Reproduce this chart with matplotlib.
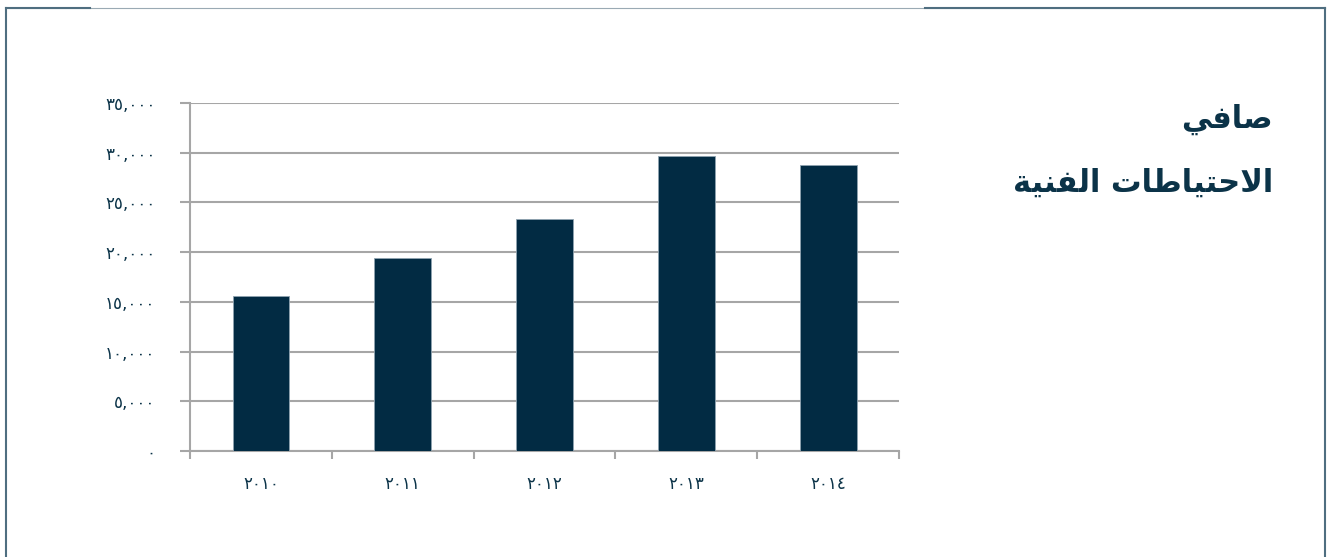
import matplotlib
matplotlib.use("Agg")
import matplotlib.pyplot as plt
from matplotlib.ticker import FuncFormatter, FixedLocator
from matplotlib.lines import Line2D

plt.rcParams['font.family'] = ['DejaVu Sans']

# data
years = ['٢٠١٠', '٢٠١١', '٢٠١٢', '٢٠١٣', '٢٠١٤']
net_reserves = [15600, 19400, 23300, 29700, 28800]
y_ticks = [0, 5000, 10000, 15000, 20000, 25000, 30000, 35000]

# title lines, in presentation forms and visual order (matplotlib does no shaping)
title_line1 = '\uFEF2\uFED3\uFE8E\uFEBB'  # صافي
title_line2 = ('\uFE94\uFEF4\uFEE8\uFED4\uFEDF\uFE8D' + ' ' +
               '\uFE95\uFE8E\uFEC3\uFE8E\uFEF4\uFE98\uFEA3\uFEFB\uFE8D')  # الاحتياطات الفنية

navy = '#022b43'
text_col = '#0b3348'
grid_col = '#a6a6a6'
frame_col = '#4f6e80'

AR_DIGITS = str.maketrans('0123456789', '٠١٢٣٤٥٦٧٨٩')


def ar_fmt(v, pos):
    return f'{int(round(v)):,}'.translate(AR_DIGITS)


fig = plt.figure(figsize=(13.33, 5.57), dpi=100)
ax = fig.add_axes([0.1425, 0.1903, 0.532, 0.6248])

x = list(range(len(years)))
ax.bar(x, net_reserves, width=0.4, color=navy, edgecolor='#8fa3b0', linewidth=0.6, zorder=3)

ax.set_xlim(-0.5, len(years) - 0.5)
ax.set_ylim(0, 35000)
ax.set_yticks(y_ticks)
ax.yaxis.set_major_formatter(FuncFormatter(ar_fmt))

# category boundaries get the tick marks, labels sit in the middle
ax.xaxis.set_major_locator(FixedLocator([i - 0.5 for i in range(len(years) + 1)]))
ax.xaxis.set_major_formatter(FuncFormatter(lambda v, p: ''))
ax.xaxis.set_minor_locator(FixedLocator(x))
ax.set_xticklabels(years, minor=True)
ax.tick_params(axis='x', which='minor', length=0, pad=17)
ax.tick_params(axis='x', which='major', length=6, width=1.5, color=grid_col, direction='out')
ax.tick_params(axis='y', length=7, width=1.5, color=grid_col, direction='out', pad=18)
for lab in ax.get_xticklabels(minor=True) + ax.get_yticklabels():
    lab.set_fontsize(12)
    lab.set_color(text_col)

ax.grid(axis='y', color=grid_col, linewidth=1.5, zorder=0)
ax.set_axisbelow(True)
for side in ['top', 'right']:
    ax.spines[side].set_visible(False)
for side in ['left', 'bottom']:
    ax.spines[side].set_color(grid_col)
    ax.spines[side].set_linewidth(1.5)

# title on the right
fig.text(0.955, 0.785, title_line1, ha='right', va='center', fontsize=22,
         fontweight='bold', color=text_col)
fig.text(0.955, 0.672, title_line2, ha='right', va='center', fontsize=22,
         fontweight='bold', color=text_col)

# frame around the picture
W, H = 1333, 557
top_y = 1 - 8 / H
lx, rx = 6 / W, 1325 / W
fig.add_artist(Line2D([lx, rx], [top_y, top_y], color='#9aaab4', linewidth=0.8))
fig.add_artist(Line2D([lx, 90 / W], [top_y, top_y], color=frame_col, linewidth=1.5))
fig.add_artist(Line2D([925 / W, rx], [top_y, top_y], color=frame_col, linewidth=1.5))
fig.add_artist(Line2D([lx, lx], [0, top_y], color=frame_col, linewidth=1.5))
fig.add_artist(Line2D([rx, rx], [0, top_y], color=frame_col, linewidth=1.5))

fig.savefig('out.png', dpi=100)
